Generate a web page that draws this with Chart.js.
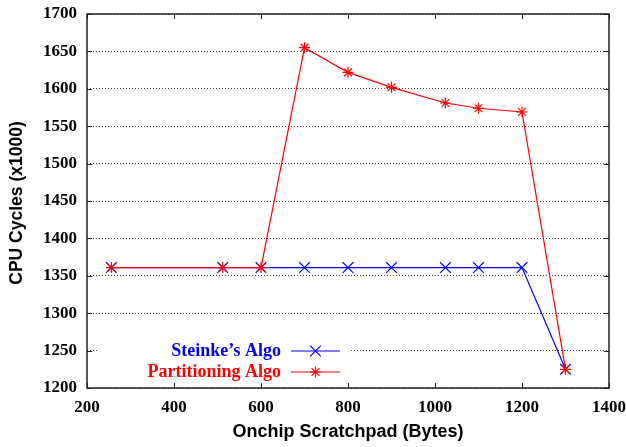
<!DOCTYPE html>
<html>
<head>
<meta charset="utf-8">
<script src="https://cdn.jsdelivr.net/npm/chart.js@4/dist/chart.umd.min.js"></script>
<style>
  html, body { margin: 0; padding: 0; background: #fff; }
  canvas { display: block; }
</style>
</head>
<body>
<canvas id="chart" width="626" height="447"></canvas>
<script>
// scratchpad sizes (bytes) and cpu cycles (x1000)
const sizes = [256, 512, 600, 700, 800, 900, 1024, 1100, 1200, 1300];
const steinke = [1361, 1361, 1361, 1361, 1361, 1361, 1361, 1361, 1361, 1225];
const partitioning = [1361, 1361, 1361, 1655, 1622, 1602, 1581, 1574, 1569, 1225];

const xTicks = [200, 400, 600, 800, 1000, 1200, 1400];
const yTicks = [1200, 1250, 1300, 1350, 1400, 1450, 1500, 1550, 1600, 1650, 1700];

const serif = '"Liberation Serif", "Times New Roman", serif';
const sans = '"Liberation Sans", Arial, sans-serif';

const toPoints = (ys) => sizes.map((x, i) => ({ x: x, y: ys[i] }));

// frame with inward ticks, like gnuplot
const frame = {
  id: 'frame',
  beforeDatasetsDraw(chart) {
    const { ctx, chartArea: a, scales } = chart;
    ctx.save();
    ctx.strokeStyle = '#222';
    ctx.lineWidth = 1;
    ctx.beginPath();
    xTicks.forEach(v => {
      const px = Math.round(scales.x.getPixelForValue(v)) + 0.5;
      ctx.moveTo(px, a.bottom); ctx.lineTo(px, a.bottom - 5);
      ctx.moveTo(px, a.top); ctx.lineTo(px, a.top + 5);
    });
    yTicks.forEach(v => {
      const py = Math.round(scales.y.getPixelForValue(v)) + 0.5;
      ctx.moveTo(a.left, py); ctx.lineTo(a.left + 5, py);
      ctx.moveTo(a.right, py); ctx.lineTo(a.right - 5, py);
    });
    ctx.stroke();
    ctx.lineWidth = 1.5;
    ctx.strokeRect(a.left, a.top, a.right - a.left, a.bottom - a.top);

    // y axis title
    ctx.translate(17, (a.top + a.bottom) / 2 + 2);
    ctx.rotate(-Math.PI / 2);
    ctx.fillStyle = '#000';
    ctx.font = 'bold 17.5px ' + sans;
    ctx.textAlign = 'center';
    ctx.textBaseline = 'middle';
    ctx.fillText('CPU Cycles (x1000)', 0, 0);
    ctx.restore();
  }
};

// key inside the plot, text right aligned then sample
const key = {
  id: 'key',
  afterDatasetsDraw(chart) {
    const ctx = chart.ctx;
    ctx.save();
    ctx.fillStyle = '#fff';
    ctx.fillRect(98, 339, 251, 44);
    ctx.font = 'bold 18px ' + serif;
    ctx.textAlign = 'right';
    ctx.textBaseline = 'middle';
    chart.data.datasets.forEach((ds, i) => {
      const y = 351 + i * 21;
      ctx.fillStyle = ds.borderColor;
      ctx.fillText(ds.label, 281, y);
      ctx.strokeStyle = ds.borderColor;
      ctx.lineWidth = ds.borderWidth;
      ctx.beginPath();
      ctx.moveTo(291, y); ctx.lineTo(340, y);
      ctx.stroke();
      Chart.helpers.drawPoint(ctx, {
        pointStyle: ds.pointStyle, radius: ds.pointRadius, rotation: 0, borderWidth: ds.pointBorderWidth
      }, 315.5, y);
    });
    ctx.restore();
  }
};

new Chart(document.getElementById('chart'), {
  type: 'line',
  data: {
    datasets: [
      {
        label: 'Steinke\u2019s Algo',
        data: toPoints(steinke),
        borderColor: '#0000ff',
        backgroundColor: '#0000ff',
        pointBorderColor: '#0000ff',
        borderWidth: 1.2,
        pointStyle: 'crossRot',
        pointRadius: 7.5,
        pointBorderWidth: 1.2,
        order: 1
      },
      {
        label: 'Partitioning Algo',
        data: toPoints(partitioning),
        borderColor: '#ff0000',
        backgroundColor: '#ff0000',
        pointBorderColor: '#ff0000',
        borderWidth: 1.2,
        pointStyle: 'star',
        pointRadius: 5.5,
        pointBorderWidth: 1.2,
        order: 0
      }
    ]
  },
  plugins: [frame, key],
  options: {
    responsive: false,
    animation: false,
    devicePixelRatio: 1,
    layout: { padding: { top: 14, right: 17, left: 0, bottom: 0 } },
    plugins: { legend: { display: false }, tooltip: { enabled: false } },
    scales: {
      x: {
        type: 'linear',
        min: 200,
        max: 1400,
        afterFit(s) { s.height = 59; s.paddingLeft = 0; s.paddingRight = 0; },
        afterBuildTicks(s) { s.ticks = xTicks.map(v => ({ value: v })); },
        grid: { display: false, drawTicks: false },
        border: { display: false },
        ticks: {
          color: '#000', padding: 9,
          font: { family: serif, size: 17, weight: 'bold' },
          callback: v => String(v)
        },
        title: {
          display: true,
          text: 'Onchip Scratchpad (Bytes)',
          color: '#000',
          padding: { top: 0, bottom: 4 },
          font: { family: sans, size: 18, weight: 'bold' }
        }
      },
      y: {
        type: 'linear',
        min: 1200,
        max: 1700,
        afterFit(s) { s.width = 87; s.paddingTop = 0; s.paddingBottom = 0; },
        afterBuildTicks(s) { s.ticks = yTicks.map(v => ({ value: v })); },
        grid: { color: 'rgba(0,0,0,0.75)', lineWidth: 1, drawTicks: false },
        border: { display: false, dash: [1, 2] },
        ticks: {
          color: '#000', padding: 10,
          font: { family: serif, size: 17, weight: 'bold' },
          callback: v => String(v)
        }
      }
    }
  }
});
</script>
</body>
</html>
